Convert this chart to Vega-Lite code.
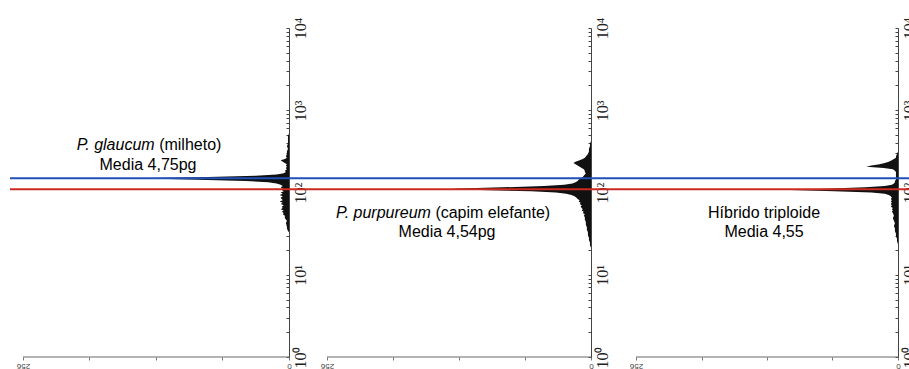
{
  "$schema": "https://vega.github.io/schema/vega-lite/v6.json",
  "background": "white",
  "padding": {"left": 0, "right": 0, "top": 17, "bottom": 0},
  "bounds": "flush",
  "spacing": 0,
  "config": {
    "view": {"stroke": null},
    "axis": {"grid": false, "title": null},
    "axisY": {"labelAngle": 270, "labelAlign": "center", "labelBaseline": "top", "labelFont": "Liberation Serif", "labelFontSize": 16, "labelColor": "#222222", "labelPadding": 6, "labelOverlap": false, "labelFlush": false, "tickSize": -3, "tickColor": "#444444", "domainColor": "#444444"},
    "axisX": {"domain": false, "tickSize": 3, "tickColor": "#777777", "labelAngle": 180, "labelAlign": "center", "labelBaseline": "bottom", "labelFontSize": 8, "labelFont": "Liberation Sans", "labelColor": "#444444", "labelPadding": 1, "labelFlush": false, "labelOverlap": false}
  },
  "datasets": {
    "glaucum": [
      {"channel": 97, "count": 0}, {"channel": 98, "count": 1}, {"channel": 100, "count": 2}, {"channel": 102, "count": 2},
      {"channel": 104, "count": 3}, {"channel": 106, "count": 2}, {"channel": 108, "count": 4}, {"channel": 110, "count": 4},
      {"channel": 111, "count": 6}, {"channel": 112, "count": 5}, {"channel": 113, "count": 7}, {"channel": 114, "count": 5},
      {"channel": 115, "count": 8}, {"channel": 116, "count": 6}, {"channel": 117, "count": 7}, {"channel": 118, "count": 5},
      {"channel": 119, "count": 8}, {"channel": 120, "count": 6}, {"channel": 121, "count": 9}, {"channel": 122, "count": 6},
      {"channel": 123, "count": 7}, {"channel": 124, "count": 8}, {"channel": 125, "count": 6}, {"channel": 126, "count": 9},
      {"channel": 127, "count": 6}, {"channel": 128, "count": 8}, {"channel": 129, "count": 5}, {"channel": 130, "count": 7},
      {"channel": 131, "count": 6}, {"channel": 132, "count": 8}, {"channel": 133, "count": 6}, {"channel": 134, "count": 8},
      {"channel": 135, "count": 12}, {"channel": 136, "count": 20}, {"channel": 137, "count": 42}, {"channel": 138, "count": 88},
      {"channel": 139, "count": 145}, {"channel": 140, "count": 78}, {"channel": 141, "count": 32}, {"channel": 142, "count": 12},
      {"channel": 143, "count": 5}, {"channel": 144, "count": 3}, {"channel": 145, "count": 4}, {"channel": 146, "count": 2},
      {"channel": 147, "count": 3}, {"channel": 148, "count": 2}, {"channel": 149, "count": 3}, {"channel": 150, "count": 2},
      {"channel": 151, "count": 4}, {"channel": 152, "count": 6}, {"channel": 153, "count": 8}, {"channel": 154, "count": 4},
      {"channel": 155, "count": 2}, {"channel": 156, "count": 3}, {"channel": 158, "count": 2}, {"channel": 160, "count": 2},
      {"channel": 162, "count": 1}, {"channel": 164, "count": 2}, {"channel": 166, "count": 1}, {"channel": 168, "count": 1},
      {"channel": 170, "count": 1}, {"channel": 172, "count": 1}, {"channel": 174, "count": 0}
    ],
    "purpureum": [
      {"channel": 85, "count": 0}, {"channel": 87, "count": 1}, {"channel": 89, "count": 1}, {"channel": 91, "count": 2},
      {"channel": 93, "count": 2}, {"channel": 95, "count": 3}, {"channel": 97, "count": 3}, {"channel": 99, "count": 4},
      {"channel": 101, "count": 4}, {"channel": 103, "count": 5}, {"channel": 105, "count": 5}, {"channel": 107, "count": 6},
      {"channel": 109, "count": 6}, {"channel": 110, "count": 7}, {"channel": 111, "count": 6}, {"channel": 112, "count": 8},
      {"channel": 113, "count": 7}, {"channel": 114, "count": 9}, {"channel": 115, "count": 8}, {"channel": 116, "count": 9},
      {"channel": 117, "count": 10}, {"channel": 118, "count": 9}, {"channel": 119, "count": 11}, {"channel": 120, "count": 10},
      {"channel": 121, "count": 12}, {"channel": 122, "count": 11}, {"channel": 123, "count": 13}, {"channel": 124, "count": 14},
      {"channel": 125, "count": 16}, {"channel": 126, "count": 19}, {"channel": 127, "count": 24}, {"channel": 128, "count": 34},
      {"channel": 129, "count": 58}, {"channel": 130, "count": 108}, {"channel": 131, "count": 135}, {"channel": 132, "count": 86},
      {"channel": 133, "count": 46}, {"channel": 134, "count": 26}, {"channel": 135, "count": 18}, {"channel": 136, "count": 15},
      {"channel": 137, "count": 13}, {"channel": 138, "count": 12}, {"channel": 139, "count": 10}, {"channel": 140, "count": 8},
      {"channel": 141, "count": 7}, {"channel": 142, "count": 6}, {"channel": 143, "count": 5}, {"channel": 144, "count": 6},
      {"channel": 145, "count": 6}, {"channel": 146, "count": 7}, {"channel": 147, "count": 9}, {"channel": 148, "count": 11},
      {"channel": 149, "count": 13}, {"channel": 150, "count": 15}, {"channel": 151, "count": 17}, {"channel": 152, "count": 15},
      {"channel": 153, "count": 11}, {"channel": 154, "count": 8}, {"channel": 155, "count": 6}, {"channel": 156, "count": 5},
      {"channel": 157, "count": 4}, {"channel": 158, "count": 3}, {"channel": 160, "count": 2}, {"channel": 162, "count": 2},
      {"channel": 164, "count": 1}, {"channel": 166, "count": 1}, {"channel": 168, "count": 0}
    ],
    "hibrido": [
      {"channel": 88, "count": 0}, {"channel": 90, "count": 1}, {"channel": 92, "count": 1}, {"channel": 94, "count": 2},
      {"channel": 96, "count": 2}, {"channel": 98, "count": 3}, {"channel": 100, "count": 3}, {"channel": 102, "count": 4},
      {"channel": 104, "count": 3}, {"channel": 106, "count": 4}, {"channel": 108, "count": 5}, {"channel": 110, "count": 4},
      {"channel": 112, "count": 5}, {"channel": 113, "count": 6}, {"channel": 114, "count": 5}, {"channel": 115, "count": 6},
      {"channel": 116, "count": 5}, {"channel": 117, "count": 7}, {"channel": 118, "count": 6}, {"channel": 119, "count": 7},
      {"channel": 120, "count": 6}, {"channel": 121, "count": 7}, {"channel": 122, "count": 6}, {"channel": 123, "count": 7},
      {"channel": 124, "count": 6}, {"channel": 125, "count": 7}, {"channel": 126, "count": 9}, {"channel": 127, "count": 13},
      {"channel": 128, "count": 26}, {"channel": 129, "count": 62}, {"channel": 130, "count": 105}, {"channel": 131, "count": 72},
      {"channel": 132, "count": 32}, {"channel": 133, "count": 13}, {"channel": 134, "count": 6}, {"channel": 135, "count": 4},
      {"channel": 136, "count": 3}, {"channel": 137, "count": 3}, {"channel": 138, "count": 2}, {"channel": 139, "count": 2},
      {"channel": 140, "count": 2}, {"channel": 141, "count": 2}, {"channel": 142, "count": 2}, {"channel": 143, "count": 2},
      {"channel": 144, "count": 2}, {"channel": 145, "count": 3}, {"channel": 146, "count": 5}, {"channel": 147, "count": 14},
      {"channel": 148, "count": 31}, {"channel": 149, "count": 26}, {"channel": 150, "count": 18}, {"channel": 151, "count": 13},
      {"channel": 152, "count": 9}, {"channel": 153, "count": 6}, {"channel": 154, "count": 4}, {"channel": 155, "count": 2},
      {"channel": 156, "count": 2}, {"channel": 158, "count": 1}, {"channel": 160, "count": 0}
    ],
    "refs": [
      {"sample": "P. glaucum", "media_pg": 4.75, "channel": 139},
      {"sample": "P. purpureum", "media_pg": 4.54, "channel": 130.5}
    ],
    "x_extent": [
      {"count_from": 0, "count_to": 256, "channel": 0}
    ],
    "labels": [
      {"sample": "P. glaucum", "species": "P. glaucum", "common": "(milheto)", "media": "Media 4,75pg"},
      {"sample": "P. purpureum", "species": "P. purpureum", "common": "(capim elefante)", "media": "Media 4,54pg"},
      {"sample": "Híbrido triploide", "species": "Híbrido triploide", "common": "", "media": "Media 4,55"}
    ]
  },
  "hconcat": [
    {
      "width": 305,
      "height": 329,
      "resolve": {"axis": {"x": "independent", "y": "independent"}},
      "layer": [
        {
          "data": {"name": "glaucum"},
          "mark": {"type": "area", "orient": "horizontal", "color": "#111111", "interpolate": "linear"},
          "encoding": {
            "y": {"field": "channel", "type": "quantitative", "scale": {"domain": [0, 256], "nice": false, "zero": false},
              "axis": {"orient": "right", "offset": -16, "values": [0,19.27,30.54,38.53,44.74,49.8,54.08,57.8,61.07,64,83.27,94.54,102.53,108.74,113.8,118.08,121.8,125.07,128,147.27,158.54,166.53,172.74,177.8,182.08,185.8,189.07,192,211.27,222.54,230.53,236.74,241.8,246.08,249.8,253.07,256],
                "labelExpr": "datum.value == 0 ? '10⁰' : datum.value == 64 ? '10¹' : datum.value == 128 ? '10²' : datum.value == 192 ? '10³' : datum.value == 256 ? '10⁴' : ''"}},
            "x": {"field": "count", "type": "quantitative", "scale": {"domain": [-15.4, 278.13], "reverse": true, "nice": false, "zero": false},
              "axis": {"orient": "bottom", "values": [0, 64, 128, 192, 256], "labelExpr": "datum.value == 0 || datum.value == 256 ? datum.label : ''"}},
            "x2": {"datum": 0}
          }
        },
        {
          "data": {"name": "x_extent"},
          "mark": {"type": "rule", "color": "#666666", "strokeWidth": 1},
          "encoding": {"x": {"field": "count_from", "type": "quantitative", "axis": null}, "x2": {"field": "count_to"}, "y": {"field": "channel", "type": "quantitative", "axis": null}}
        },
        {
          "data": {"name": "refs"},
          "mark": {"type": "rule", "strokeWidth": 2},
          "encoding": {
            "y": {"field": "channel", "type": "quantitative", "axis": null},
            "x": {"datum": 268.5, "axis": null}, "x2": {"datum": -15.4},
            "color": {"field": "sample", "type": "nominal", "scale": {"domain": ["P. glaucum", "P. purpureum"], "range": ["#2150b8", "#cc2a22"]}, "legend": null}
          }
        },
        {
          "data": {"name": "labels"},
          "transform": [{"filter": "datum.sample == 'P. glaucum'"}],
          "mark": {"type": "text", "align": "right", "baseline": "middle", "font": "Liberation Sans", "fontSize": 16, "fontStyle": "italic", "color": "#000000"},
          "encoding": {"text": {"field": "species"}, "x": {"datum": 129.3, "axis": null}, "y": {"datum": 165, "axis": null}}
        },
        {
          "data": {"name": "labels"},
          "transform": [{"filter": "datum.sample == 'P. glaucum'"}],
          "mark": {"type": "text", "align": "left", "baseline": "middle", "dx": 4.5, "font": "Liberation Sans", "fontSize": 16, "color": "#000000"},
          "encoding": {"text": {"field": "common"}, "x": {"datum": 129.3, "axis": null}, "y": {"datum": 165, "axis": null}}
        },
        {
          "data": {"name": "labels"},
          "transform": [{"filter": "datum.sample == 'P. glaucum'"}],
          "mark": {"type": "text", "align": "center", "baseline": "middle", "font": "Liberation Sans", "fontSize": 16, "color": "#000000"},
          "encoding": {"text": {"field": "media"}, "x": {"datum": 135.7, "axis": null}, "y": {"datum": 149.4, "axis": null}}
        }
      ]
    },
    {
      "width": 310,
      "height": 329,
      "resolve": {"axis": {"x": "independent", "y": "independent"}},
      "layer": [
        {
          "data": {"name": "purpureum"},
          "mark": {"type": "area", "orient": "horizontal", "color": "#111111", "interpolate": "linear"},
          "encoding": {
            "y": {"field": "channel", "type": "quantitative", "scale": {"domain": [0, 256], "nice": false, "zero": false},
              "axis": {"orient": "right", "offset": -24, "values": [0,19.27,30.54,38.53,44.74,49.8,54.08,57.8,61.07,64,83.27,94.54,102.53,108.74,113.8,118.08,121.8,125.07,128,147.27,158.54,166.53,172.74,177.8,182.08,185.8,189.07,192,211.27,222.54,230.53,236.74,241.8,246.08,249.8,253.07,256],
                "labelExpr": "datum.value == 0 ? '10⁰' : datum.value == 64 ? '10¹' : datum.value == 128 ? '10²' : datum.value == 192 ? '10³' : datum.value == 256 ? '10⁴' : ''"}},
            "x": {"field": "count", "type": "quantitative", "scale": {"domain": [-23.27, 277.33], "reverse": true, "nice": false, "zero": false},
              "axis": {"orient": "bottom", "values": [0, 64, 128, 192, 256], "labelExpr": "datum.value == 0 || datum.value == 256 ? datum.label : ''"}},
            "x2": {"datum": 0}
          }
        },
        {
          "data": {"name": "x_extent"},
          "mark": {"type": "rule", "color": "#666666", "strokeWidth": 1},
          "encoding": {"x": {"field": "count_from", "type": "quantitative", "axis": null}, "x2": {"field": "count_to"}, "y": {"field": "channel", "type": "quantitative", "axis": null}}
        },
        {
          "data": {"name": "refs"},
          "mark": {"type": "rule", "strokeWidth": 2},
          "encoding": {
            "y": {"field": "channel", "type": "quantitative", "axis": null},
            "color": {"field": "sample", "type": "nominal", "scale": {"domain": ["P. glaucum", "P. purpureum"], "range": ["#2150b8", "#cc2a22"]}, "legend": null}
          }
        },
        {
          "data": {"name": "labels"},
          "transform": [{"filter": "datum.sample == 'P. purpureum'"}],
          "mark": {"type": "text", "align": "right", "baseline": "middle", "font": "Liberation Sans", "fontSize": 16, "fontStyle": "italic", "color": "#000000"},
          "encoding": {"text": {"field": "species"}, "x": {"datum": 155.25, "axis": null}, "y": {"datum": 112.1, "axis": null}}
        },
        {
          "data": {"name": "labels"},
          "transform": [{"filter": "datum.sample == 'P. purpureum'"}],
          "mark": {"type": "text", "align": "left", "baseline": "middle", "dx": 4.5, "font": "Liberation Sans", "fontSize": 16, "color": "#000000"},
          "encoding": {"text": {"field": "common"}, "x": {"datum": 155.25, "axis": null}, "y": {"datum": 112.1, "axis": null}}
        },
        {
          "data": {"name": "labels"},
          "transform": [{"filter": "datum.sample == 'P. purpureum'"}],
          "mark": {"type": "text", "align": "center", "baseline": "middle", "font": "Liberation Sans", "fontSize": 16, "color": "#000000"},
          "encoding": {"text": {"field": "media"}, "x": {"datum": 139.6, "axis": null}, "y": {"datum": 97.3, "axis": null}}
        }
      ]
    },
    {
      "width": 294,
      "height": 329,
      "resolve": {"axis": {"x": "independent", "y": "independent"}},
      "layer": [
        {
          "data": {"name": "hibrido"},
          "mark": {"type": "area", "orient": "horizontal", "color": "#111111", "interpolate": "linear"},
          "encoding": {
            "y": {"field": "channel", "type": "quantitative", "scale": {"domain": [0, 256], "nice": false, "zero": false},
              "axis": {"orient": "right", "offset": -11, "values": [0,19.27,30.54,38.53,44.74,49.8,54.08,57.8,61.07,64,83.27,94.54,102.53,108.74,113.8,118.08,121.8,125.07,128,147.27,158.54,166.53,172.74,177.8,182.08,185.8,189.07,192,211.27,222.54,230.53,236.74,241.8,246.08,249.8,253.07,256],
                "labelExpr": "datum.value == 0 ? '10⁰' : datum.value == 64 ? '10¹' : datum.value == 128 ? '10²' : datum.value == 192 ? '10³' : datum.value == 256 ? '10⁴' : ''"}},
            "x": {"field": "count", "type": "quantitative", "scale": {"domain": [-10.75, 276.52], "reverse": true, "nice": false, "zero": false},
              "axis": {"orient": "bottom", "values": [0, 64, 128, 192, 256], "labelExpr": "datum.value == 0 || datum.value == 256 ? datum.label : ''"}},
            "x2": {"datum": 0}
          }
        },
        {
          "data": {"name": "x_extent"},
          "mark": {"type": "rule", "color": "#666666", "strokeWidth": 1},
          "encoding": {"x": {"field": "count_from", "type": "quantitative", "axis": null}, "x2": {"field": "count_to"}, "y": {"field": "channel", "type": "quantitative", "axis": null}}
        },
        {
          "data": {"name": "refs"},
          "mark": {"type": "rule", "strokeWidth": 2},
          "encoding": {
            "y": {"field": "channel", "type": "quantitative", "axis": null},
            "color": {"field": "sample", "type": "nominal", "scale": {"domain": ["P. glaucum", "P. purpureum"], "range": ["#2150b8", "#cc2a22"]}, "legend": null}
          }
        },
        {
          "data": {"name": "labels"},
          "transform": [{"filter": "datum.sample == 'Híbrido triploide'"}],
          "mark": {"type": "text", "align": "center", "baseline": "middle", "font": "Liberation Sans", "fontSize": 16, "color": "#000000"},
          "encoding": {"text": {"field": "species"}, "x": {"datum": 130.9, "axis": null}, "y": {"datum": 112.1, "axis": null}}
        },
        {
          "data": {"name": "labels"},
          "transform": [{"filter": "datum.sample == 'Híbrido triploide'"}],
          "mark": {"type": "text", "align": "center", "baseline": "middle", "font": "Liberation Sans", "fontSize": 16, "color": "#000000"},
          "encoding": {"text": {"field": "media"}, "x": {"datum": 130.9, "axis": null}, "y": {"datum": 97.3, "axis": null}}
        }
      ]
    }
  ]
}
